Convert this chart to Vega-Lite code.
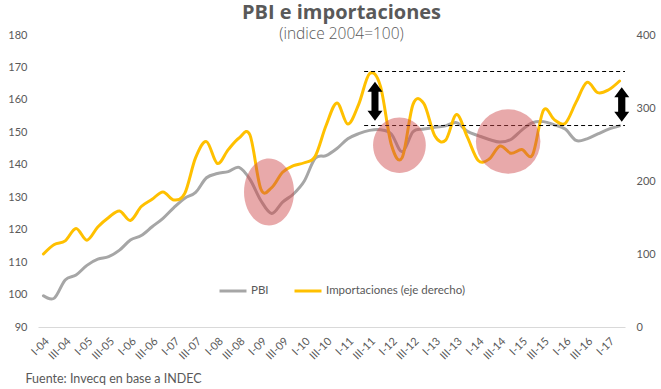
{
  "$schema": "https://vega.github.io/schema/vega-lite/v6.json",
  "autosize": {"type": "none"},
  "width": 587,
  "height": 292,
  "padding": {"left": 38, "top": 35, "right": 36, "bottom": 62},
  "background": "white",
  "title": {
    "text": "PBI e importaciones",
    "subtitle": "(indice 2004=100)",
    "anchor": "middle",
    "dx": 10,
    "offset": -13,
    "font": "Open Sans",
    "fontSize": 20,
    "fontWeight": "bold",
    "color": "#595959",
    "subtitleFont": "Open Sans",
    "subtitleFontSize": 15.5,
    "subtitleFontWeight": 300,
    "subtitleColor": "#595959",
    "subtitlePadding": 4
  },
  "config": {
    "view": {"stroke": null},
    "axis": {"labelFont": "Lato", "labelFontSize": 11, "labelColor": "#595959", "grid": false, "ticks": false, "domain": false},
    "legend": {"labelFont": "Lato", "labelFontSize": 11.5, "labelColor": "#595959"}
  },
  "datasets": {
    "serie": [
      {"t": "I-04", "pbi": 99.6, "imp": 100},
      {"t": "II-04", "pbi": 98.9, "imp": 113},
      {"t": "III-04", "pbi": 104.5, "imp": 118},
      {"t": "IV-04", "pbi": 106, "imp": 135},
      {"t": "I-05", "pbi": 109, "imp": 119},
      {"t": "II-05", "pbi": 110.9, "imp": 137},
      {"t": "III-05", "pbi": 111.7, "imp": 150},
      {"t": "IV-05", "pbi": 113.7, "imp": 159},
      {"t": "I-06", "pbi": 116.8, "imp": 146},
      {"t": "II-06", "pbi": 118.2, "imp": 165},
      {"t": "III-06", "pbi": 120.9, "imp": 175},
      {"t": "IV-06", "pbi": 123.5, "imp": 185},
      {"t": "I-07", "pbi": 126.8, "imp": 174},
      {"t": "II-07", "pbi": 129.7, "imp": 183},
      {"t": "III-07", "pbi": 131.5, "imp": 232},
      {"t": "IV-07", "pbi": 136, "imp": 254},
      {"t": "I-08", "pbi": 137.3, "imp": 224},
      {"t": "II-08", "pbi": 137.9, "imp": 243},
      {"t": "III-08", "pbi": 139.2, "imp": 259},
      {"t": "IV-08", "pbi": 135.5, "imp": 263},
      {"t": "I-09", "pbi": 129, "imp": 189},
      {"t": "II-09", "pbi": 125, "imp": 191},
      {"t": "III-09", "pbi": 128.5, "imp": 212},
      {"t": "IV-09", "pbi": 131, "imp": 221},
      {"t": "I-10", "pbi": 135, "imp": 225},
      {"t": "II-10", "pbi": 142, "imp": 234},
      {"t": "III-10", "pbi": 142.8, "imp": 276},
      {"t": "IV-10", "pbi": 145, "imp": 307},
      {"t": "I-11", "pbi": 148, "imp": 278},
      {"t": "II-11", "pbi": 149.6, "imp": 305},
      {"t": "III-11", "pbi": 150.6, "imp": 347},
      {"t": "IV-11", "pbi": 150.8, "imp": 330},
      {"t": "I-12", "pbi": 149.5, "imp": 250},
      {"t": "II-12", "pbi": 144, "imp": 232},
      {"t": "III-12", "pbi": 150.2, "imp": 305},
      {"t": "IV-12", "pbi": 151, "imp": 306},
      {"t": "I-13", "pbi": 151.6, "imp": 262},
      {"t": "II-13", "pbi": 152, "imp": 256},
      {"t": "III-13", "pbi": 153, "imp": 291},
      {"t": "IV-13", "pbi": 150.3, "imp": 260},
      {"t": "I-14", "pbi": 149, "imp": 228},
      {"t": "II-14", "pbi": 147.8, "imp": 230},
      {"t": "III-14", "pbi": 147, "imp": 248},
      {"t": "IV-14", "pbi": 147.8, "imp": 238},
      {"t": "I-15", "pbi": 150.7, "imp": 243},
      {"t": "II-15", "pbi": 153, "imp": 236},
      {"t": "III-15", "pbi": 153.3, "imp": 297},
      {"t": "IV-15", "pbi": 152.3, "imp": 284},
      {"t": "I-16", "pbi": 151, "imp": 279},
      {"t": "II-16", "pbi": 147.5, "imp": 308},
      {"t": "III-16", "pbi": 148, "imp": 335},
      {"t": "IV-16", "pbi": 149.5, "imp": 321},
      {"t": "I-17", "pbi": 151, "imp": 325},
      {"t": "II-17", "pbi": 152, "imp": 337}
    ]
  },
  "layer": [
    {
      "data": {"name": "serie"},
      "mark": {"type": "line", "interpolate": "cardinal", "strokeWidth": 3, "strokeCap": "round"},
      "encoding": {
        "x": {
          "field": "t", "type": "ordinal",
          "scale": {"type": "band", "paddingInner": 0, "paddingOuter": 0,
            "domain": ["I-04","II-04","III-04","IV-04","I-05","II-05","III-05","IV-05","I-06","II-06","III-06","IV-06","I-07","II-07","III-07","IV-07","I-08","II-08","III-08","IV-08","I-09","II-09","III-09","IV-09","I-10","II-10","III-10","IV-10","I-11","II-11","III-11","IV-11","I-12","II-12","III-12","IV-12","I-13","II-13","III-13","IV-13","I-14","II-14","III-14","IV-14","I-15","II-15","III-15","IV-15","I-16","II-16","III-16","IV-16","I-17","II-17"]},
          "axis": {
            "values": ["I-04","III-04","I-05","III-05","I-06","III-06","I-07","III-07","I-08","III-08","I-09","III-09","I-10","III-10","I-11","III-11","I-12","III-12","I-13","III-13","I-14","III-14","I-15","III-15","I-16","III-16","I-17"],
            "labelAngle": -45, "labelPadding": 8,
            "domain": true, "domainColor": "#d9d9d9", "domainWidth": 1,
            "title": "Fuente: Invecq en base a INDEC",
            "titleFont": "Lato", "titleFontSize": 12.5, "titleFontWeight": "normal", "titleColor": "#595959",
            "titleAnchor": "start", "titleAlign": "left", "titleBaseline": "alphabetic",
            "titleX": -13, "titleY": 55
          }
        },
        "y": {
          "field": "pbi", "type": "quantitative",
          "scale": {"domain": [90, 180], "zero": false, "nice": false},
          "axis": {"orient": "left", "title": null, "values": [90,100,110,120,130,140,150,160,170,180], "labelPadding": 11}
        },
        "color": {
          "datum": "PBI",
          "scale": {"domain": ["PBI", "Importaciones (eje derecho)"], "range": ["#a6a6a6", "#ffc000"]},
          "legend": {
            "title": null, "orient": "none", "direction": "horizontal",
            "legendX": 180, "legendY": 241, "padding": 0,
            "symbolType": "stroke", "symbolSize": 729, "symbolStrokeWidth": 3,
            "labelOffset": 3, "columnPadding": 19
          }
        }
      }
    },
    {
      "layer": [
        {
          "data": {"name": "serie"},
          "mark": {"type": "line", "interpolate": "cardinal", "strokeWidth": 3, "strokeCap": "round"},
          "encoding": {
            "x": {"field": "t", "type": "ordinal"},
            "y": {
              "field": "imp", "type": "quantitative",
              "scale": {"domain": [0, 400], "nice": false},
              "axis": {"orient": "right", "title": null, "values": [0,50,100,150,200,250,300,350,400], "labelPadding": 11}
            },
            "color": {"datum": "Importaciones (eje derecho)"}
          }
        },
        {
          "data": {"values": [
            {"desde": "III-11", "hasta": "II-17", "nivel": 350},
            {"desde": "III-11", "hasta": "II-17", "nivel": 276}
          ]},
          "mark": {"type": "rule", "color": "black", "strokeWidth": 1, "strokeDash": [4, 3]},
          "encoding": {
            "x": {"field": "desde", "type": "ordinal", "bandPosition": 0},
            "x2": {"field": "hasta", "bandPosition": 1},
            "y": {"field": "nivel", "type": "quantitative"}
          }
        },
        {
          "data": {"values": [{"t": "II-09", "v": 185}]},
          "mark": {"type": "point", "filled": true, "color": "#ce484b", "opacity": 0.47, "strokeWidth": 0, "size": 4489,
            "shape": "M0.746,0 C0.746,0.552 0.412,1 0,1 C-0.412,1 -0.746,0.552 -0.746,0 C-0.746,-0.552 -0.412,-1 0,-1 C0.412,-1 0.746,-0.552 0.746,0 Z"},
          "encoding": {
            "x": {"field": "t", "type": "ordinal", "bandPosition": 0.25},
            "y": {"field": "v", "type": "quantitative"}
          }
        },
        {
          "data": {"values": [{"t": "II-12", "v": 249}]},
          "mark": {"type": "point", "filled": true, "color": "#ce484b", "opacity": 0.47, "strokeWidth": 0, "size": 3058,
            "shape": "M0.953,0 C0.953,0.552 0.526,1 0,1 C-0.526,1 -0.953,0.552 -0.953,0 C-0.953,-0.552 -0.526,-1 0,-1 C0.526,-1 0.953,-0.552 0.953,0 Z"},
          "encoding": {
            "x": {"field": "t", "type": "ordinal", "bandPosition": 0.25},
            "y": {"field": "v", "type": "quantitative"}
          }
        },
        {
          "data": {"values": [{"t": "IV-14", "v": 254}]},
          "mark": {"type": "point", "filled": true, "color": "#ce484b", "opacity": 0.47, "strokeWidth": 0, "size": 4160, "shape": "circle"},
          "encoding": {
            "x": {"field": "t", "type": "ordinal", "bandPosition": 0.25},
            "y": {"field": "v", "type": "quantitative"}
          }
        },
        {
          "data": {"values": [{"t": "IV-11", "v": 309.3}]},
          "mark": {"type": "point", "filled": true, "color": "black", "opacity": 1, "strokeWidth": 0, "size": 1521,
            "shape": "M0,-1 L0.385,-0.487 L0.18,-0.487 L0.18,0.487 L0.385,0.487 L0,1 L-0.385,0.487 L-0.18,0.487 L-0.18,-0.487 L-0.385,-0.487 Z"},
          "encoding": {
            "x": {"field": "t", "type": "ordinal", "bandPosition": 0},
            "y": {"field": "v", "type": "quantitative"}
          }
        },
        {
          "data": {"values": [{"t": "II-17", "v": 304.8}]},
          "mark": {"type": "point", "filled": true, "color": "black", "opacity": 1, "strokeWidth": 0, "size": 1183,
            "shape": "M0,-1 L0.436,-0.42 L0.21,-0.42 L0.21,0.42 L0.436,0.42 L0,1 L-0.436,0.42 L-0.21,0.42 L-0.21,-0.42 L-0.436,-0.42 Z"},
          "encoding": {
            "x": {"field": "t", "type": "ordinal", "bandPosition": 0.7},
            "y": {"field": "v", "type": "quantitative"}
          }
        }
      ]
    }
  ],
  "resolve": {"scale": {"y": "independent"}, "axis": {"y": "independent"}}
}
